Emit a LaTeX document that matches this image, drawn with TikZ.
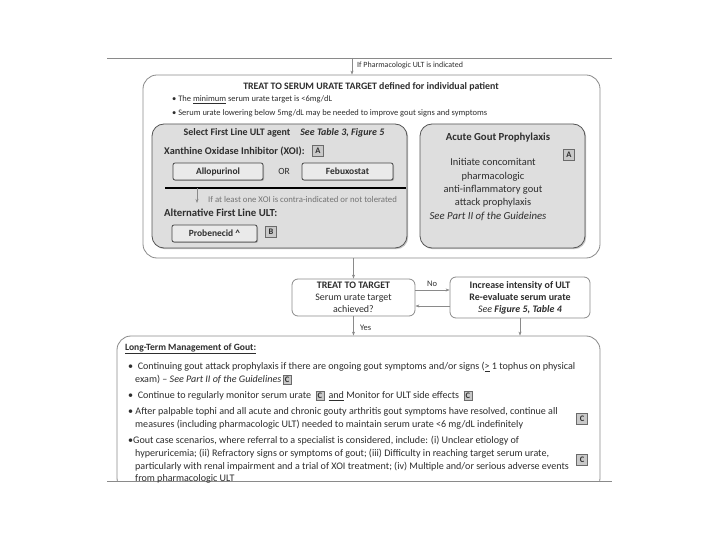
\documentclass[tikz,border=0pt]{standalone}
\usepackage{fontspec}
\setmainfont{Carlito}
\usetikzlibrary{shadows,arrows.meta}
\definecolor{txt}{HTML}{2E2E2E}
\definecolor{edge}{HTML}{8A8A8A}
\definecolor{dark}{HTML}{555555}
\definecolor{panel}{HTML}{DEDEDE}
\definecolor{btn}{HTML}{EAEAEA}
\definecolor{badgefill}{HTML}{C9C9C9}
\definecolor{badgeedge}{HTML}{6A6A6A}
\newcommand\bdg[1]{{\setlength\fboxsep{1.5pt}\setlength\fboxrule{0.5pt}\fcolorbox{badgeedge}{badgefill}{\textbf{\fontsize{8.5}{9}\selectfont #1}}}}
\begin{document}
\begin{tikzpicture}[x=1bp,y=-1bp,
  font=\fontsize{10.1}{12}\selectfont, text=txt,
  whitebox/.style={draw=edge, line width=0.8bp, fill=white, rounded corners=14bp},
  panelbox/.style={draw=dark, line width=0.8bp, fill=panel, rounded corners=12bp,
     drop shadow={shadow xshift=1.2bp, shadow yshift=-1.2bp, fill=black!45}},
  btnbox/.style={draw=dark!80!black, line width=0.8bp, fill=btn, rounded corners=2bp,
     drop shadow={shadow xshift=1bp, shadow yshift=-1bp, fill=black!50},
     font=\fontsize{9.5}{10}\selectfont\bfseries},
  flowbox/.style={draw=edge, line width=0.8bp, fill=white, rounded corners=6bp, align=center,
     font=\fontsize{10}{12}\selectfont},
  badge/.style={draw=badgeedge, line width=0.5bp, fill=badgefill, inner sep=1.5bp,
     minimum width=11bp, minimum height=11bp, font=\fontsize{8.5}{9}\selectfont\bfseries},
  lbl/.style={anchor=west, inner sep=0pt},
  arr/.style={draw=edge, line width=0.6bp, -{Stealth[length=4bp,width=3bp]}},
  rule/.style={draw=edge, line width=0.6bp}]
\useasboundingbox (0,0) rectangle (720,540);

% frame lines
\coordinate (tl) at (107,58); \coordinate (tr) at (612,58);
\coordinate (bl) at (107,481); \coordinate (br) at (612,481);
\draw[rule] (tl) -- (tr);

% outer box
\node[whitebox, minimum width=457bp, minimum height=183bp] (outer) at (371.5,166.5) {};
\coordinate (topin) at (352,58);
\draw[arr] (topin) -- (topin |- outer.north);
\node[lbl, font=\fontsize{8}{9}\selectfont] (ifph) at (357,65) {If Pharmacologic ULT is indicated};
\node[inner sep=0pt, font=\fontsize{9.9}{11}\selectfont\bfseries] (title) at (371,87) {TREAT TO SERUM URATE TARGET defined for individual patient};
\node[lbl, font=\fontsize{8.5}{9}\selectfont] (b1) at (172,100) {• The \underline{minimum} serum urate target is <6mg/dL};
\node[lbl, font=\fontsize{8.5}{9}\selectfont] (b2) at (172,113) {• Serum urate lowering below 5mg/dL may be needed to improve gout signs and symptoms};

% left panel
\node[panelbox, minimum width=255bp, minimum height=124bp] (left) at (279.5,186) {};
\node[inner sep=0pt, font=\fontsize{10}{11}\selectfont\bfseries] (selt) at (284,133) {Select First Line ULT agent\quad\textit{See Table 3, Figure 5}};
\node[lbl, font=\fontsize{10.3}{11}\selectfont\bfseries] (xoi) at (164,151) {Xanthine Oxidase Inhibitor (XOI):};
\node[badge] (ba1) at (318,151) {A};
\node[btnbox, minimum width=90bp, minimum height=17bp] (allo) at (218,171.5) {Allopurinol};
\node[font=\fontsize{9.5}{10}\selectfont] (or) at (284,171.5) {OR};
\node[btnbox, minimum width=91bp, minimum height=17bp] (febu) at (347.5,171.5) {Febuxostat};
\coordinate (thl) at (165,188); \coordinate (thr) at (406,188);
\draw[line width=1.6bp, black] (thl) -- (thr);
\coordinate (arrs) at (197,188);
\draw[arr] (arrs) -- ++(0,15);
\node[lbl, font=\fontsize{8.8}{9}\selectfont, text=black!55] (note) at (208,199) {If at least one XOI is contra-indicated or not tolerated};
\node[lbl, font=\fontsize{10.8}{11}\selectfont\bfseries] (alt) at (164,213) {Alternative First Line ULT:};
\node[btnbox, minimum width=85bp, minimum height=17bp] (prob) at (214.5,233.5) {Probenecid \^{}};
\node[badge] (bb) at (271,232) {B};

% right panel
\node[panelbox, minimum width=165bp, minimum height=124bp] (right) at (502.5,186) {};
\node[inner sep=0pt, font=\fontsize{10.8}{11}\selectfont\bfseries] (agp) at (498,138) {Acute Gout Prophylaxis};
\node[badge] (ba2) at (569,155) {A};
\node[align=center, inner sep=0pt, font=\fontsize{10.5}{13.3}\selectfont] (init) at (493,183) {Initiate concomitant\\pharmacologic\\anti-inflammatory gout\\attack prophylaxis};
\node[inner sep=0pt, font=\fontsize{10.8}{11}\selectfont\itshape] (seep) at (488,216) {See Part II of the Guideines};

% decision and increase
\node[flowbox, minimum width=123bp, minimum height=37bp, inner sep=1bp] (dec) at (353.5,297.5) {\textbf{TREAT TO TARGET}\\Serum urate target\\achieved?};
\node[flowbox, minimum width=140bp, minimum height=41bp, inner sep=1bp] (inc) at (520,297.5) {\textbf{Increase intensity of ULT}\\\textbf{Re-evaluate serum urate}\\\textit{See \textbf{Figure 5, Table 4}}};
\draw[arr] (dec.north |- outer.south) -- (dec.north);
\draw[arr] ([yshift=7.5bp]dec.east) -- ([yshift=7.5bp]dec.east -| inc.west);
\node[font=\fontsize{8.5}{9}\selectfont] (no) at (432,284) {No};
\draw[arr] ([yshift=-8.5bp]inc.west) -- ([yshift=-8.5bp]inc.west -| dec.east);

% long-term box (cut by the bottom line)
\begin{scope}
\clip (0,0) rectangle (720,481);
\node[whitebox, minimum width=483bp, minimum height=156bp] (ltm) at (358.5,414) {};
\end{scope}
\draw[rule] (bl) -- (br);
\draw[arr] (dec.south) -- (dec.south |- ltm.north);
\node[lbl, font=\fontsize{8.5}{9}\selectfont] (yes) at (360,328) {Yes};
\draw[arr] (inc.south) -- (inc.south |- ltm.north);

\node[lbl, font=\fontsize{9.6}{11}\selectfont\bfseries] (lth) at (125,349) {\underline{Long-Term Management of Gout:}};
\node[lbl] (l1) at (128,367) {•\ \ Continuing gout attack prophylaxis if there are ongoing gout symptoms and/or signs (\underline{>} 1 tophus on physical};
\node[lbl] (l2) at (135,380) {exam) – \textit{See Part II of the Guidelines}\,\bdg{C}};
\node[lbl] (l3) at (128,396) {•\ \ Continue to regularly monitor serum urate \ \bdg{C}\ \ \underline{and} Monitor for ULT side effects \ \bdg{C}};
\node[lbl] (l4) at (128,412) {• After palpable tophi and all acute and chronic gouty arthritis gout symptoms have resolved, continue all};
\node[lbl] (l5) at (135,425) {measures (including pharmacologic ULT) needed to maintain serum urate <6 mg/dL indefinitely};
\node[badge] (bc3) at (582,419) {C};
\node[lbl] (l6) at (128,441) {•Gout case scenarios, where referral to a specialist is considered, include: (i) Unclear etiology of};
\node[lbl] (l7) at (135,454) {hyperuricemia; (ii) Refractory signs or symptoms of gout; (iii) Difficulty in reaching target serum urate,};
\node[lbl] (l8) at (135,467) {particularly with renal impairment and a trial of XOI treatment; (iv) Multiple and/or serious adverse events};
\node[lbl] (l9) at (135,479) {from pharmacologic ULT};
\node[badge] (bc4) at (582,460) {C};
\end{tikzpicture}
\end{document}
